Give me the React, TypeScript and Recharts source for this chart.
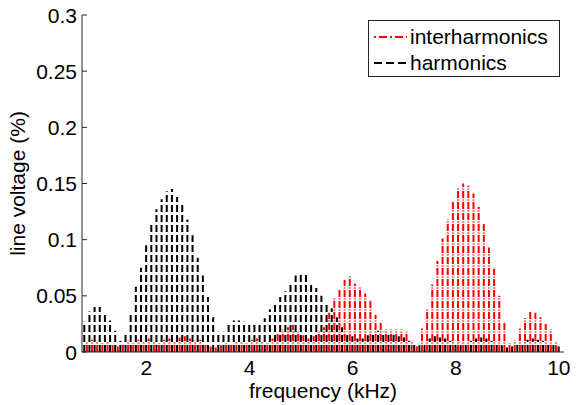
import React from 'react';
import { ComposedChart, Bar, XAxis, YAxis, Legend } from 'recharts';

const FONT = '"Liberation Sans", Arial, Helvetica, sans-serif';
const AXIS = '#262626';

// harmonics every 100 Hz, interharmonics half way in between
const harmonicFreqs = [
  0.8, 0.9, 1.0, 1.1, 1.2, 1.3, 1.4, 1.5, 1.6, 1.7,
  1.8, 1.9, 2.0, 2.1, 2.2, 2.3, 2.4, 2.5, 2.6, 2.7,
  2.8, 2.9, 3.0, 3.1, 3.2, 3.3, 3.4, 3.5, 3.6, 3.7,
  3.8, 3.9, 4.0, 4.1, 4.2, 4.3, 4.4, 4.5, 4.6, 4.7,
  4.8, 4.9, 5.0, 5.1, 5.2, 5.3, 5.4, 5.5, 5.6, 5.7,
  5.8, 5.9, 6.0, 6.1, 6.2, 6.3, 6.4, 6.5, 6.6, 6.7,
  6.8, 6.9, 7.0, 7.1, 7.2, 7.3, 7.4, 7.5, 7.6, 7.7,
  7.8, 7.9, 8.0, 8.1, 8.2, 8.3, 8.4, 8.5, 8.6, 8.7,
  8.8, 8.9, 9.0, 9.1, 9.2, 9.3, 9.4, 9.5, 9.6, 9.7,
  9.8, 9.9, 10.0,
];
const harmonicValues = [
  0.027, 0.036, 0.040, 0.040, 0.034, 0.028, 0.019, 0.010, 0.017, 0.035,
  0.058, 0.075, 0.095, 0.115, 0.127, 0.136, 0.143, 0.145, 0.138, 0.133,
  0.118, 0.104, 0.084, 0.068, 0.049, 0.031, 0.018, 0.018, 0.024, 0.028,
  0.028, 0.027, 0.026, 0.025, 0.024, 0.030, 0.038, 0.044, 0.049, 0.054,
  0.062, 0.068, 0.069, 0.069, 0.061, 0.057, 0.050, 0.044, 0.039, 0.031,
  0.022, 0.018, 0.014, 0.012, 0.012, 0.015, 0.017, 0.019, 0.018, 0.016,
  0.016, 0.014, 0.013, 0.010, 0.008, 0.006, 0.008, 0.012, 0.014, 0.013,
  0.012, 0.010, 0.008, 0.006, 0.008, 0.010, 0.012, 0.013, 0.012, 0.010,
  0.008, 0.006, 0.004, 0.005, 0.007, 0.009, 0.011, 0.012, 0.011, 0.010,
  0.009, 0.007, 0.005,
];

const interFreqs = [
  0.85, 0.95, 1.05, 1.15, 1.25, 1.35, 1.45, 1.55, 1.65, 1.75,
  1.85, 1.95, 2.05, 2.15, 2.25, 2.35, 2.45, 2.55, 2.65, 2.75,
  2.85, 2.95, 3.05, 3.15, 3.25, 3.35, 3.45, 3.55, 3.65, 3.75,
  3.85, 3.95, 4.05, 4.15, 4.25, 4.35, 4.45, 4.55, 4.65, 4.75,
  4.85, 4.95, 5.05, 5.15, 5.25, 5.35, 5.45, 5.55, 5.65, 5.75,
  5.85, 5.95, 6.05, 6.15, 6.25, 6.35, 6.45, 6.55, 6.65, 6.75,
  6.85, 6.95, 7.05, 7.15, 7.25, 7.35, 7.45, 7.55, 7.65, 7.75,
  7.85, 7.95, 8.05, 8.15, 8.25, 8.35, 8.45, 8.55, 8.65, 8.75,
  8.85, 8.95, 9.05, 9.15, 9.25, 9.35, 9.45, 9.55, 9.65, 9.75,
  9.85, 9.95,
];
const interValues = [
  0.009, 0.011, 0.010, 0.008, 0.009, 0.006, 0.005, 0.007, 0.010, 0.008,
  0.011, 0.009, 0.012, 0.010, 0.008, 0.011, 0.012, 0.009, 0.013, 0.014,
  0.012, 0.010, 0.011, 0.007, 0.005, 0.004, 0.006, 0.008, 0.007, 0.009,
  0.010, 0.008, 0.011, 0.012, 0.009, 0.008, 0.012, 0.016, 0.020, 0.022,
  0.024, 0.018, 0.015, 0.012, 0.014, 0.018, 0.022, 0.035, 0.048, 0.056,
  0.064, 0.068, 0.061, 0.058, 0.052, 0.046, 0.033, 0.027, 0.020, 0.020,
  0.020, 0.020, 0.018, 0.010, 0.005, 0.021, 0.038, 0.060, 0.081, 0.101,
  0.118, 0.134, 0.146, 0.150, 0.148, 0.141, 0.129, 0.115, 0.093, 0.074,
  0.050, 0.026, 0.008, 0.010, 0.021, 0.030, 0.037, 0.035, 0.031, 0.025,
  0.020, 0.009,
];

const xTicks = [2, 4, 6, 8, 10];
const yTicks = [0, 0.05, 0.1, 0.15, 0.2, 0.25, 0.3];

const tableData = [
  ...harmonicFreqs.map((f, i) => ({ f, h: harmonicValues[i] })),
  ...interFreqs.map((f, i) => ({ f, ih: interValues[i] })),
].sort((a, b) => a.f - b.f);

// stems are drawn from the baseline upwards so the dash pattern starts at 0
const makeStem = (color: string, dash: string) => (props: any) => {
  const { x, y, width, height } = props;
  if (!height || height < 0.5) return <g />;
  const cx = x + width / 2;
  return (
    <line x1={cx} y1={y + height} x2={cx} y2={y} stroke={color} strokeWidth={2} strokeDasharray={dash} />
  );
};
const RedStem = makeStem('#ff0000', '7 1.5 1 1.5');
const BlackStem = makeStem('#000000', '7 3');

const textStyle = { fontSize: 21, fontFamily: FONT, fill: '#000' };

const BottomTick = ({ x, y, payload }: any) => (
  <g>
    <line x1={x} y1={y} x2={x} y2={y - 5} stroke={AXIS} />
    <text x={x} y={y + 8} dy="0.71em" textAnchor="middle" {...textStyle}>{payload.value}</text>
  </g>
);
const TopTick = ({ x, y }: any) => <line x1={x} y1={y} x2={x} y2={y + 5} stroke={AXIS} />;
const LeftTick = ({ x, y, payload }: any) => (
  <g>
    <line x1={x} y1={y} x2={x + 5} y2={y} stroke={AXIS} />
    <text x={x - 5} y={y} dy="0.36em" textAnchor="end" {...textStyle}>{String(payload.value)}</text>
  </g>
);
const RightTick = ({ x, y }: any) => <line x1={x} y1={y} x2={x - 5} y2={y} stroke={AXIS} />;

const LegendBox = () => (
  <div style={{
    border: `1px solid ${AXIS}`, background: '#fff', width: 192, height: 57,
    boxSizing: 'border-box', paddingTop: 3, fontFamily: FONT, fontSize: 21, color: '#000',
  }}>
    {[
      { name: 'interharmonics', color: '#ff0000', dash: '2 3 8 3' },
      { name: 'harmonics', color: '#000000', dash: '8 4' },
    ].map(item => (
      <div key={item.name} style={{ display: 'flex', alignItems: 'center', height: 26 }}>
        <svg width={41} height={26} style={{ display: 'block' }}>
          <line x1={5} y1={13} x2={38} y2={13} stroke={item.color} strokeWidth={2} strokeDasharray={item.dash} />
        </svg>
        <span style={{ lineHeight: '26px' }}>{item.name}</span>
      </div>
    ))}
  </div>
);

export default function App() {
  return (
    <div style={{ width: 578, height: 405 }}>
      <style>{'body{margin:0;background:#fff}'}</style>
      <ComposedChart
        width={578}
        height={405}
        data={tableData}
        margin={{ top: 15, right: 14, bottom: 0, left: 0 }}
      >
        <XAxis
          dataKey="f"
          type="number"
          domain={[0.75, 10.1]}
          allowDataOverflow
          ticks={xTicks}
          height={53}
          tickSize={0}
          tickMargin={0}
          tickLine={false}
          stroke={AXIS}
          tick={<BottomTick />}
          label={{ value: 'frequency (kHz)', position: 'insideBottom', offset: 7, style: textStyle }}
        />
        <XAxis
          xAxisId="top"
          orientation="top"
          type="number"
          domain={[0.75, 10.1]}
          allowDataOverflow
          ticks={xTicks}
          height={0}
          tickSize={0}
          tickMargin={0}
          tickLine={false}
          stroke={AXIS}
          tick={<TopTick />}
        />
        <YAxis
          type="number"
          domain={[0, 0.3]}
          allowDataOverflow
          ticks={yTicks}
          width={82}
          tickSize={0}
          tickMargin={0}
          tickLine={false}
          stroke={AXIS}
          tick={<LeftTick />}
          label={{
            value: 'line voltage (%)', angle: -90, position: 'insideLeft', offset: 18,
            style: { ...textStyle, textAnchor: 'middle' },
          }}
        />
        <YAxis
          yAxisId="right"
          orientation="right"
          type="number"
          domain={[0, 0.3]}
          allowDataOverflow
          ticks={yTicks}
          width={0}
          tickSize={0}
          tickMargin={0}
          tickLine={false}
          stroke={AXIS}
          tick={<RightTick />}
        />
        <Legend
          layout="vertical"
          align="center"
          verticalAlign="middle"
          wrapperStyle={{ left: 368, top: 20, width: 192 }}
          content={() => <LegendBox />}
        />
        <Bar dataKey="ih" name="interharmonics" stackId="s" barSize={2} shape={RedStem} isAnimationActive={false} />
        <Bar dataKey="h" name="harmonics" stackId="s" barSize={2} shape={BlackStem} isAnimationActive={false} />
      </ComposedChart>
    </div>
  );
}
